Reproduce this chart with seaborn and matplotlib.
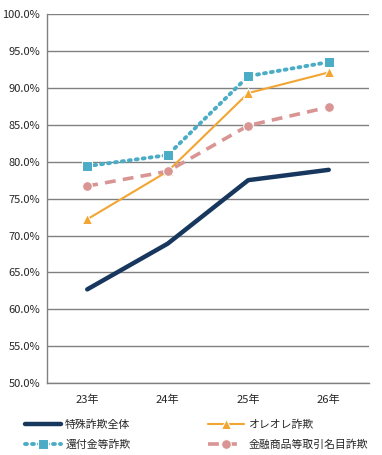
import matplotlib
matplotlib.use("Agg")
import matplotlib.pyplot as plt
import matplotlib.ticker as mticker
import numpy as np
import pandas as pd
import seaborn as sns

years = ["23年", "24年", "25年", "26年"]
tokushu = [62.7, 68.9, 77.5, 78.9]
oreore = [72.2, 78.7, 89.3, 92.1]
kanpu = [79.4, 80.9, 91.6, 93.5]
kinyu = [76.7, 78.7, 84.9, 87.4]

series_names = ["特殊詐欺全体", "オレオレ詐欺", "還付金等詐欺", "金融商品等取引名目詐欺"]
series_vals = [tokushu, oreore, kanpu, kinyu]

sns.set_theme(style="white")
plt.rcParams['font.family'] = ['Noto Sans CJK JP', 'DejaVu Sans']

fig = plt.figure(figsize=(3.82, 4.55), dpi=100)
ax = fig.add_axes([0.123, 0.158, 0.843, 0.811])

styles = {
    "特殊詐欺全体": dict(color="#17375E", lw=3.2, linestyle="-", marker=None),
    "オレオレ詐欺": dict(color="#F2A531", lw=1.5, linestyle="-", marker="^", ms=7),
    "還付金等詐欺": dict(color="#4BACC6", lw=2.8, linestyle=(0, (0.5, 1.3)), marker="s", ms=7,
                    dash_capstyle="round"),
    "金融商品等取引名目詐欺": dict(color="#D99594", lw=2.6, linestyle=(0, (3, 2)), marker="o", ms=7),
}

for name, vals in zip(series_names, series_vals):
    df = pd.DataFrame({"x": np.arange(len(years)), "y": vals})
    st = dict(styles[name])
    sns.lineplot(data=df, x="x", y="y", ax=ax, label=name, **st)

ax.set_xlim(-0.5, len(years) - 0.5)
ax.set_ylim(50, 100)
ax.set_xticks(np.arange(len(years)))
ax.set_xticklabels(years, fontsize=8)
ax.set_xticks(np.arange(len(years) + 1) - 0.5, minor=True)
ax.tick_params(axis="x", which="major", length=0, pad=8)
ax.tick_params(axis="x", which="minor", length=4, color="#808080", width=1, direction="out")
ax.set_yticks(np.arange(50, 101, 5))
ax.yaxis.set_major_formatter(mticker.FuncFormatter(lambda v, p: f"{v:.1f}%"))
ax.tick_params(axis="y", labelsize=8, length=3, color="#808080", direction="out", pad=2)
ax.set_xlabel("")
ax.set_ylabel("")
ax.grid(axis="y", color="#808080", lw=1)
ax.set_axisbelow(True)
for s in ["top", "right"]:
    ax.spines[s].set_visible(False)
for s in ["left", "bottom"]:
    ax.spines[s].set_color("#808080")
    ax.spines[s].set_linewidth(1)

ax.get_legend().remove()
handles, labels = ax.get_legend_handles_labels()
order = [0, 2, 1, 3]
fig.legend([handles[i] for i in order], [labels[i] for i in order], ncol=2,
           loc="lower left", bbox_to_anchor=(0.04, -0.01),
           frameon=False, fontsize=7.8, handlelength=3.3, columnspacing=7.2,
           labelspacing=0.9, handletextpad=0.4)

fig.savefig("out.png", dpi=100)
